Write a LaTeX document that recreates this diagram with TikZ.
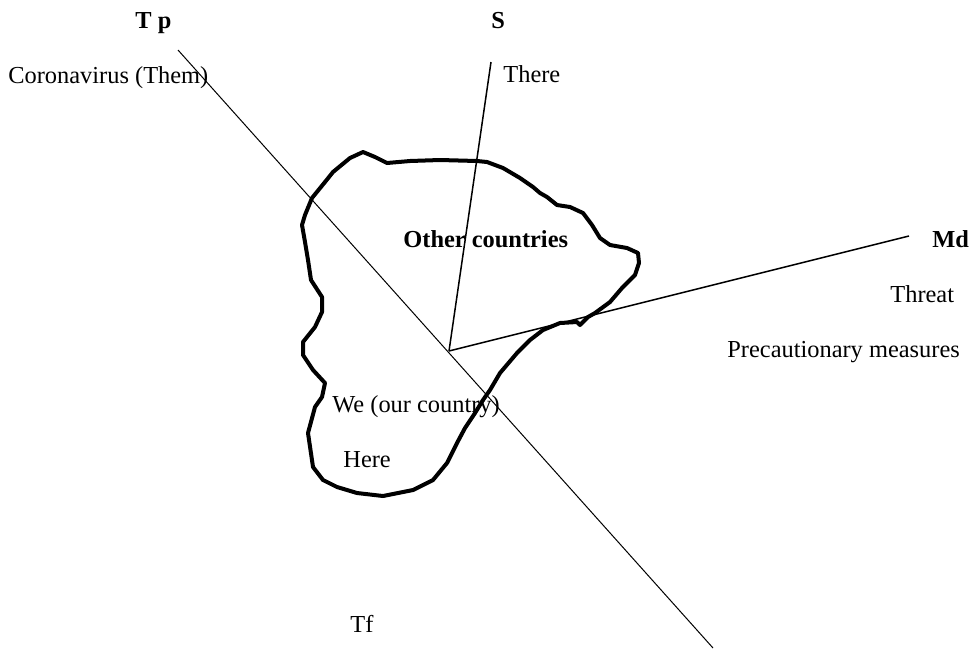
\documentclass[tikz,border=0pt]{standalone}
\usepackage{fontspec}
\setmainfont{Liberation Serif}
\usepackage{tikz}
\usepackage{xcolor}

\begin{document}
\begin{tikzpicture}[x=0.5pt, y=-0.5pt,
    lbl/.style={anchor=base west, inner sep=0pt, font=\fontsize{12.2}{14}\selectfont},
    axislbl/.style={lbl, font=\fontsize{12.2}{14}\selectfont\bfseries},
    axis/.style={black, line width=0.6pt},
    border/.style={black, line width=2pt, line join=round, line cap=round}]
    \useasboundingbox (0,0) rectangle (972,649);

    % Axes meeting at the deictic centre
    \coordinate (o) at (449,351);
    \coordinate (tpend) at (178,50);
    \coordinate (tfend) at (713,648);
    \coordinate (send) at (491,62);
    \coordinate (mdend) at (909,236);
    \draw[axis, line width=0.5pt] (tpend) -- (tfend);
    \draw[axis, line width=0.75pt] (o) -- (send);
    \draw[axis, line width=0.75pt] (o) -- (mdend);

    % Hand-drawn outline of the country
    \draw[border] plot coordinates {
        (363,152) (375,157) (387,163) (410,161) (440,160) (477,161) (487,162)
        (503,168) (520,178) (533,187) (540,193) (547,197) (557,205) (570,207)
        (583,213) (592,225) (600,238) (610,245) (627,248) (638,253) (639,263)
        (635,275) (622,288) (610,302) (595,313) (588,317) (580,325) (577,322)
        (560,323) (543,330) (530,340) (517,353) (500,373) (490,390) (483,400)
        (475,413) (465,428) (457,443) (447,463) (433,480) (413,490) (383,496)
        (357,493) (337,487) (323,480) (313,467) (308,433) (315,407) (322,397)
        (325,383) (313,370) (303,355) (303,342) (315,327) (322,312) (322,297)
        (311,280) (308,260) (305,242) (302,225) (305,215) (312,198) (325,182)
        (333,172) (350,158) (363,152)};

    % Axis names
    \node[axislbl] (tp) at (135,28) {T p};
    \node[axislbl] (s) at (491,28) {S};
    \node[axislbl] (md) at (932,247) {Md};
    \node[lbl] (tf) at (350,632) {Tf};

    % Labels
    \node[lbl] (them) at (8,83) {Coronavirus (Them)};
    \node[lbl] (there) at (503,82) {There};
    \node[axislbl] (others) at (403,247) {Other countries};
    \node[lbl] (threat) at (890,302) {Threat};
    \node[lbl] (measures) at (727,357) {Precautionary measures};
    \node[lbl] (we) at (332,412) {We (our country)};
    \node[lbl] (here) at (343,467) {Here};
\end{tikzpicture}
\end{document}
